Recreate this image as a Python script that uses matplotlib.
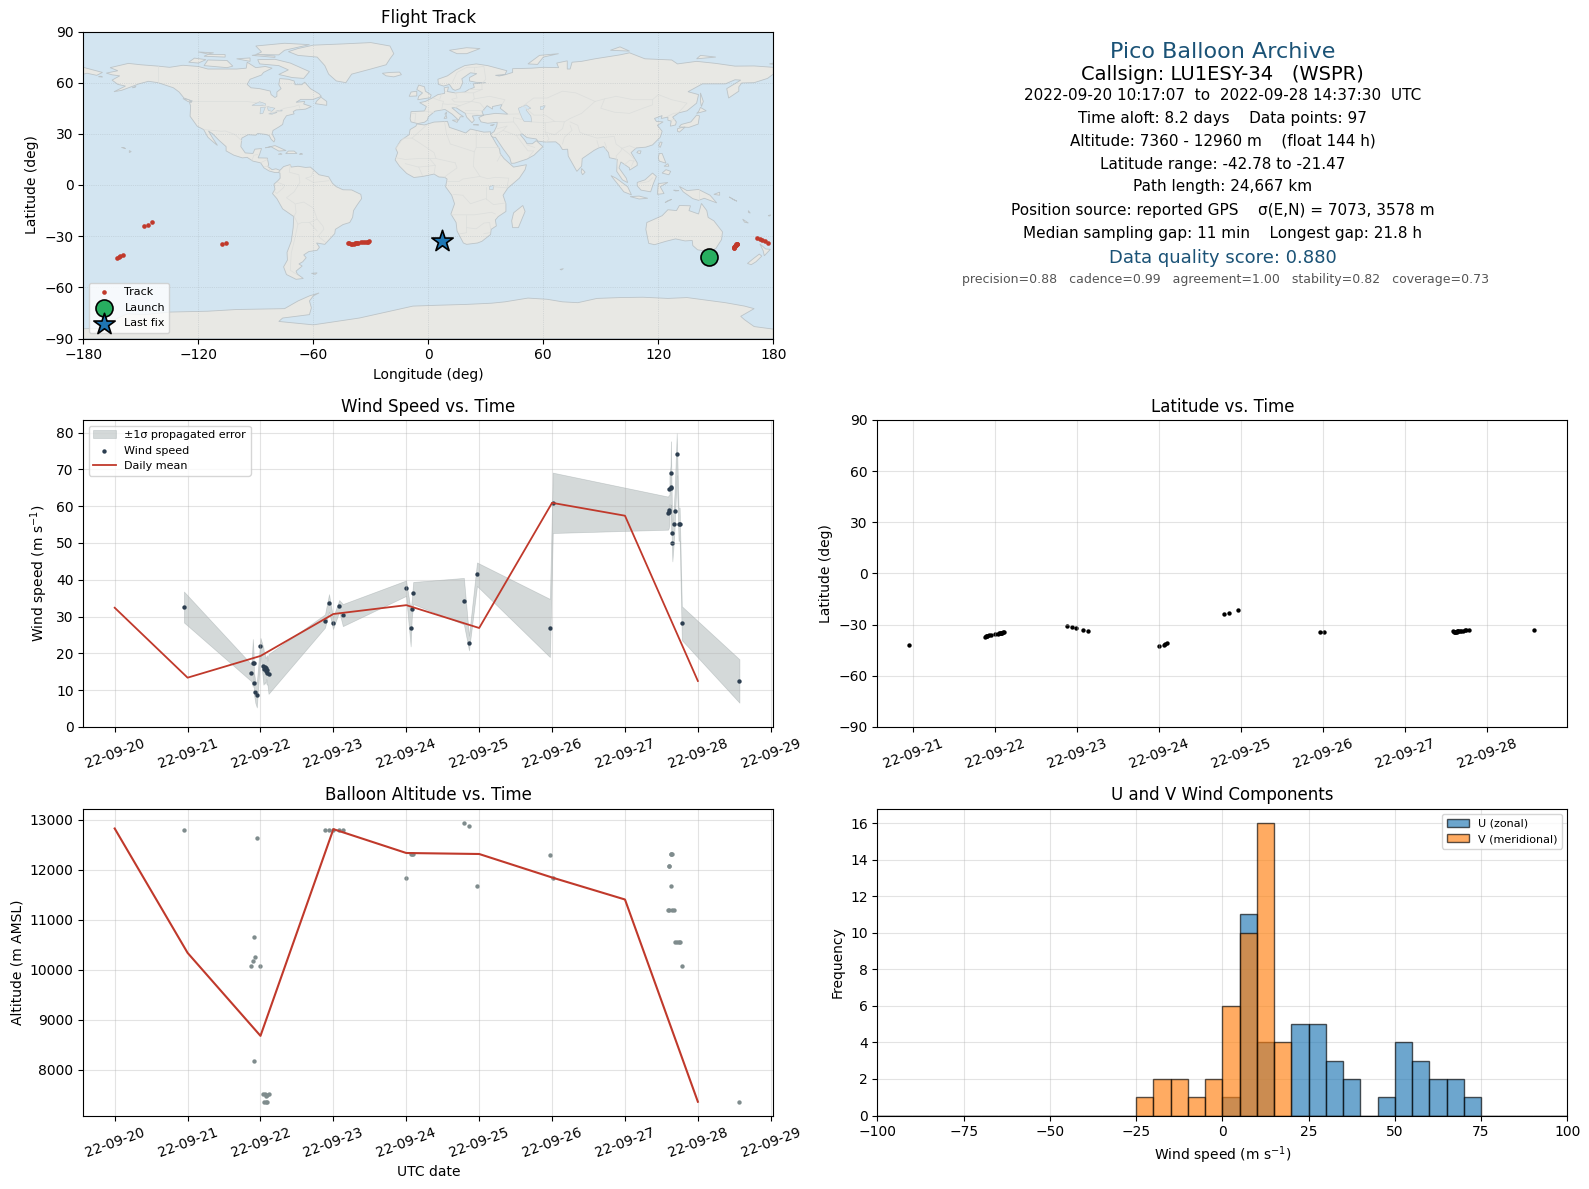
import numpy as np
import pandas as pd
import matplotlib
matplotlib.use("Agg")
import matplotlib.pyplot as plt
import matplotlib.dates as mdates
from matplotlib.patches import Polygon

# observations, day = day of September 2022 (UTC)
obs_day = [20.95, 21.876, 21.895, 21.905, 21.91, 21.93, 21.95, 22.0, 22.04, 22.05, 22.06, 22.07,
           22.08, 22.09, 22.095, 22.11, 22.885, 22.94, 22.995, 23.08, 23.13, 23.997, 24.06, 24.075,
           24.095, 24.79, 24.86, 24.97, 25.97, 26.01, 27.59, 27.6, 27.61, 27.61, 27.625, 27.63,
           27.63, 27.645, 27.65, 27.67, 27.68, 27.71, 27.735, 27.75, 27.78, 28.57]
wind = [32.6, 14.7, 17.4, 17.3, 11.9, 9.5, 8.7, 22.0, 16.5, 15.8, 16.2, 15.2,
        16.1, 15.5, 14.8, 14.4, 28.8, 33.7, 28.2, 32.9, 30.4, 37.7, 26.9, 32.0,
        36.4, 34.2, 22.8, 41.5, 26.9, 60.9, 58.1, 58.5, 59.0, 64.6, 65.0, 65.3,
        69.0, 52.7, 50.0, 55.1, 58.6, 74.1, 55.1, 55.1, 28.2, 12.5]
wind_err = [4.2, 2.3, 6.5, 3.0, 3.0, 3.0, 3.4, 2.2, 5.0, 4.0, 4.0, 3.5,
            3.0, 4.0, 3.2, 5.4, 1.8, 2.4, 1.6, 1.6, 3.0, 2.1, 5.0, 2.5,
            3.0, 6.3, 2.0, 3.2, 7.9, 8.2, 4.5, 4.5, 4.0, 4.0, 6.0, 12.0,
            8.6, 5.0, 5.0, 5.0, 5.0, 5.7, 4.5, 4.5, 4.6, 5.9]
altitude = [12800, 10080, 10180, 10660, 8180, 10260, 12640, 10080, 7510, 7360, 7510, 7470,
            7360, 7490, 7360, 7510, 12800, 12800, 12800, 12800, 12800, 11840, 12320, 12320,
            12320, 12940, 12880, 11680, 12300, 11840, 11200, 12080, 12080, 11200, 11680, 12320,
            12320, 11200, 12320, 11200, 10560, 10560, 10560, 10560, 10080, 7360]
lat = [-42.0, -37.0, -36.8, -36.6, -36.4, -36.0, -35.8, -35.5, -35.2, -35.0, -34.9, -34.8,
       -34.7, -34.6, -34.5, -34.4, -31.0, -31.5, -32.2, -33.0, -34.0, -42.78, -42.0, -41.5,
       -41.0, -23.8, -23.2, -21.47, -34.4, -34.2, -34.0, -34.2, -34.3, -34.4, -34.3, -34.2,
       -34.0, -33.9, -33.8, -33.7, -33.6, -33.5, -33.3, -33.2, -33.0, -33.0]
lon = [146.5, 159.3, 159.5, 159.6, 159.7, 159.9, 160.0, 160.2, 160.4, 160.5, 160.6, 160.7,
       160.8, 160.9, 160.95, 161.0, 171.6, 173.0, 174.0, 175.7, 177.0, -162.3, -161.5, -160.8,
       -159.3, -148.5, -146.5, -144.3, -107.8, -105.6, -42.0, -41.2, -40.5, -39.8, -39.0, -38.4,
       -37.8, -37.2, -36.7, -35.0, -34.0, -33.0, -32.2, -31.6, -31.0, 7.1]

mean_day = [20, 21, 22, 23, 24, 25, 26, 27, 28]
mean_wind = [32.4, 13.4, 19.3, 30.7, 33.1, 26.9, 60.9, 57.4, 12.5]
mean_alt = [12820, 10333, 8673, 12807, 12330, 12310, 11840, 11400, 7355]

hist_edges = np.arange(-100, 105, 5)
hist_left = [-25, -20, -15, -10, -5, 0, 5, 10, 15, 20, 25, 30, 35, 40, 45, 50, 55, 60, 65, 70]
u_counts = [0, 0, 0, 0, 0, 1, 11, 4, 0, 5, 5, 3, 2, 0, 1, 4, 3, 2, 2, 1]
v_counts = [1, 2, 2, 1, 2, 6, 10, 16, 4, 0, 0, 0, 0, 0, 0, 0, 0, 0, 0, 0]

info_lines = ["Pico Balloon Archive",
              "Callsign: LU1ESY-34   (WSPR)",
              "2022-09-20 10:17:07  to  2022-09-28 14:37:30  UTC",
              "Time aloft: 8.2 days    Data points: 97",
              "Altitude: 7360 - 12960 m    (float 144 h)",
              "Latitude range: -42.78 to -21.47",
              "Path length: 24,667 km",
              "Position source: reported GPS    σ(E,N) = 7073, 3578 m",
              "Median sampling gap: 11 min    Longest gap: 21.8 h",
              "Data quality score: 0.880",
              "precision=0.88   cadence=0.99   agreement=1.00   stability=0.82   coverage=0.73"]

# rough coastlines, lon/lat
north_america = [(-168,65.6),(-162,67),(-166,68.8),(-156.5,71.3),(-150,70.5),(-141,69.7),(-135,69),(-128,70.2),
    (-120,69.5),(-115,68),(-108,68),(-100,68),(-95,68.5),(-94.5,72),(-90,68.8),(-85,69.5),(-81.5,68.5),(-86,66),
    (-87,64.5),(-93,62),(-94.5,59),(-92.5,57),(-88,56.5),(-82.5,55.1),(-82,53),(-80,51.3),(-79,52),(-79,54.5),
    (-76.8,56.5),(-78,58.8),(-77.5,62.4),(-73,62),(-70,61),(-69.5,58.8),(-66,58.8),(-64.5,60.3),(-61.5,56.5),
    (-57,53.5),(-55.8,52),(-60,50.2),(-66.5,50.2),(-69,48.5),(-64.5,49),(-65,47.5),(-61,46),(-64,44.5),(-66.5,44.2),
    (-69,44),(-70.5,43),(-70,41.7),(-74,40.6),(-75.5,38),(-76,35.5),(-78,34),(-81,32),(-81.5,30),(-80,26.8),
    (-80.5,25.2),(-82,26.8),(-83,29),(-85,29.7),(-89,30.2),(-90,29.2),(-94,29.5),(-97.3,27.5),(-97.8,22.5),
    (-95.5,18.8),(-91.5,18.5),(-90.5,21),(-87,21.4),(-88,18),(-88.8,15.9),(-84,15.8),(-83.3,12),(-83.7,10.8),
    (-81.5,9),(-79.5,9.5),(-77.4,8.6),(-78,7.3),(-80,7.3),(-83,8.2),(-85.7,10),(-87.5,13),(-91.5,14),(-94.5,16.2),
    (-97,15.9),(-101.5,17.5),(-105.5,20),(-105.5,22.5),(-109,26),(-112.5,30),(-114.7,31.7),(-112.5,27.5),(-110,23.2),
    (-112,25),(-115,28),(-117.2,32.5),(-120.6,34.5),(-122.5,37.5),(-124.3,40.3),(-124,46.3),(-124.6,48.4),(-123,49.2),
    (-127.5,51),(-130,54.5),(-133,57),(-137,58.5),(-141,60),(-146,60.8),(-151,59.3),(-154,58),(-160,55.5),(-164,54.7),
    (-158,58),(-162,59),(-165,61.5),(-161,64),(-165,64.6)]
south_america = [(-77.4,8.6),(-75.5,10.8),(-72,12),(-71.5,10.5),(-68,11),(-64,10.3),(-61.5,10.5),(-57,6),(-52,4.8),
    (-50,1),(-48,-1),(-44.5,-2.8),(-40,-2.9),(-35.2,-5.5),(-34.8,-8),(-37,-11.5),(-39,-15),(-39.5,-19),(-41,-22),
    (-44.5,-23.2),(-48.5,-26),(-48.8,-28.5),(-52.5,-33),(-54,-34.8),(-58.3,-34),(-56.8,-36.5),(-58,-38.3),(-62.3,-39),
    (-65,-41),(-63.7,-42.6),(-65.5,-45),(-67.5,-46.3),(-65.8,-47.5),(-69,-50.5),(-68.3,-52.3),(-65.2,-54.8),(-69,-55.3),
    (-74,-52.5),(-75.5,-48),(-73.5,-44),(-73.7,-39.5),(-71.5,-33),(-70.5,-25),(-70.2,-18.5),(-76,-14),(-79,-8),
    (-81.3,-5),(-80,-2.5),(-80.5,0.5),(-78.5,2.5),(-77.3,4),(-77.4,7),(-78,7.3)]
africa = [(-5.9,35.8),(-2,35.2),(3,36.9),(10,37.3),(11,33.8),(15,32.3),(19.5,30.5),(22,32.8),(29,31),(32.5,31.2),
    (32.5,29.9),(35.5,24),(37.2,21),(37.5,18.5),(39.5,15.5),(43,12),(44.5,10.5),(51.2,11.9),(50.5,9),(47.5,4),
    (41.5,-1.8),(39,-6),(40.5,-11),(40.5,-15.5),(36.5,-18.5),(35,-20.5),(35.5,-24),(32.8,-26),(32.5,-29),(28,-33),
    (25.7,-34),(20,-34.8),(18.3,-34),(15,-27),(14.5,-22),(11.8,-17),(13.7,-11),(12.2,-6),(9,-1),(9.8,3.5),(8.5,4.5),
    (5.5,4.7),(3,6.4),(-3,5),(-7.5,4.4),(-11.3,6.8),(-15,11),(-17.3,14.7),(-16,19),(-17,21.4),(-14.5,26),(-10,29.5),
    (-9.5,32.5),(-6.5,34.5)]
eurasia = [(-9,37),(-9.5,38.8),(-9,43),(-2,43.4),(-1,46),(-4.5,48.3),(-1.5,49),(2,51),(5,53),(8.5,53.7),(8.3,57),
    (10.5,57.5),(10,54.8),(14,54),(19,54.5),(21.2,56),(24,57.2),(23.5,59.3),(30,60),(25,60.2),(21.5,61),(21.5,63),
    (25.3,65.3),(22,65.8),(17.5,62.3),(18,60),(16.5,56.5),(14,55.5),(12.7,56.2),(11,59),(8,58),(5.3,59),(5,62),(10,64),
    (14.5,67.5),(19,70),(25,71),(31,70),(41,67),(40,64.8),(35,64.3),(37,63.9),(40,64.6),(44,66),(44,68.2),(54,68.5),
    (60,69),(68,68.8),(67,71.5),(72.5,72.8),(72.5,68),(74,68),(75,72),(80,72.5),(87,74),(100,76.3),(105,77.5),(113,74),
    (127,73.3),(130,71),(140,72.5),(150,71.3),(160,69.7),(170,69.8),(180,69),(180,65),(177,62.5),(170,60),(163.5,59.8),
    (162,57.5),(162,55),(156.7,51),(155.7,56.5),(163,61.5),(160,61.7),(155,59.3),(143,59.3),(135.5,54.7),(141,53),
    (140,48),(135,43.5),(130.7,42.3),(127.5,39.8),(129.4,37),(129,35.2),(126.3,34.5),(126.7,37.5),(125,38),(125,39.8),
    (121.5,39),(122,40.7),(118,39),(119,37.3),(122.5,37),(119.5,35),(122,31.5),(121,28),(117,23.5),(113.5,22.2),
    (108.5,21.7),(105.8,19),(109,13),(109,11.5),(105,8.7),(105,10),(100.5,13.5),(99.5,10),(103.3,4),(104,1.4),(101.3,3),
    (98.3,8),(98.6,15),(94.5,16),(94,19),(91.5,22.5),(89,21.8),(86.5,20.3),(80.3,15.5),(80,11),(77.5,8),(76,11),(73,17),
    (72.7,21),(70,20.8),(68.5,23.5),(66.5,25.3),(61,25.2),(57.3,25.7),(56.3,27),(51.5,27.8),(48.7,30.2),(48,29.5),
    (50.2,26.5),(51.5,24.2),(54.3,24.2),(56.3,26),(59.8,22.5),(55.2,17.5),(51.5,15.2),(45,12.8),(43.3,12.7),(42.5,16),
    (39,21.3),(35,28),(34.3,27.9),(33,28.5),(32.6,30),(34.3,31.3),(35.7,34.5),(36,36.8),(31,36.2),(27.5,37),(26.3,39.5),
    (29,41),(35,42),(41.5,41.5),(37.5,45),(38.5,47.2),(33.5,46),(33.5,44.5),(30.7,46.5),(28,43),(28.8,41),(26,40.8),
    (23,40.5),(24,38),(22.8,36.5),(20,39.8),(19.3,42),(14.5,45.3),(12.3,45.3),(16,41.8),(18.4,40),(16.7,40),(15.8,38),
    (12.5,41.5),(8.7,44.3),(3.5,43.3),(0,40),(-0.5,38),(-2,36.8),(-5.5,36)]
australia = [(114,-22),(113.5,-26),(115,-34.2),(118,-35),(124,-33),(129,-31.6),(134,-32.8),(137.7,-32.5),(138,-35.5),
    (140.5,-38),(146.3,-39),(150,-37.3),(153,-32),(153.5,-27.5),(149,-21),(146,-19),(145.3,-15),(142.5,-10.8),(141,-17),
    (136,-15),(136.8,-12.2),(131,-12),(129.5,-15),(125,-14.5),(122,-18),(117,-20.5)]
antarctica = [(-180,-90),(-180,-84.3),(-170,-84),(-162,-78),(-157,-75.5),(-148,-76),(-135,-74.5),(-115,-74),(-100,-73),(-90,-72.8),
    (-75,-72.5),(-68,-68),(-62,-65),(-57,-63.3),(-60,-65),(-62,-68),(-61,-72),(-62,-76),(-76,-78),(-78,-80),(-60,-82),
    (-48,-80),(-36,-78),(-28,-76),(-18,-73.5),(-8,-71),(5,-70.5),(20,-70),(33,-69.3),(40,-68.5),(52,-66.3),(62,-67),
    (70,-68.5),(78,-69),(88,-66.5),(100,-66),(112,-65.8),(125,-66.5),(135,-66),(145,-67.5),(155,-69),(165,-71),(170,-72.5),
    (163,-77),(165,-79),(170,-83),(180,-84.5),(180,-90)]
greenland = [(-73,78.2),(-68,80),(-60,82),(-45,82.7),(-30,83.5),(-20,81.5),(-18,77),(-20,74),(-22,70.5),(-30,68),(-40,65),
    (-43,60),(-48,61),(-52,65),(-54,70),(-58,75),(-68,76)]
arctic_islands = [[(-80,73.7),(-72,71.5),(-67,69),(-62,66.5),(-65,62.5),(-71,63),(-78,64.8),(-73,67.5),(-78,70),(-88,71),(-89,73.5)],
    [(-117,70),(-105,68.8),(-102,69.7),(-105,73),(-115,73.3)], [(-125,72),(-120,71.5),(-116,73.5),(-122,74.4)],
    [(-90,76.5),(-78,76.3),(-75,79),(-62,82.3),(-75,83.1),(-90,81.5),(-87,78)], [(-92,76),(-80,74.8),(-80,75.6),(-89,76.5)],
    [(-117,75.5),(-106,75),(-106,76.5),(-115,76.5)], [(-100,74),(-93,72.5),(-93,74.5)], [(-120,78),(-112,77.5),(-115,76.8)],
    [(11,79),(20,80.5),(27,80),(20,77),(15,77)], [(52,71),(57,70.7),(60,75),(68,77),(58,76)], [(95,79),(105,78.5),(100,81)],
    [(140,74),(150,75),(142,76)], [(-180,69),(-175,67.5),(-170,66),(-173,64.3),(-178,65.5),(-180,65)], [(178,71),(180,71.5),(180,70.8)]]
other_islands = [[(-59,47.7),(-53,46.7),(-53,49),(-56,51.5),(-58,49.5)], [(-85,21.8),(-80,23.1),(-74.2,20.2),(-78,19.9),(-82,22.4)],
    [(-74.4,18.4),(-68.5,18.5),(-70,19.9),(-73,19.9)], [(-78.3,18),(-76.3,18),(-77,18.5)], [(-67.2,18),(-65.6,18.1),(-66.5,18.5)],
    [(-128,50.7),(-125,50),(-123.5,48.4),(-125.5,49)], [(-24,65.5),(-22,64),(-18,63.4),(-14,64.7),(-15,66.2),(-20,66)],
    [(-5.5,50),(1,51.2),(1.5,52.8),(-1.5,55),(-2,57.6),(-5,58.6),(-6,56),(-3,54),(-5,52)], [(-10,52),(-6,52.2),(-6,55),(-9,54.5)],
    [(142,54),(143.5,49),(142.5,46),(142,49)], [(140,42),(145,43.5),(142,45.5),(141,43)],
    [(130.8,34),(136,33.8),(140.8,35.7),(141.5,40.5),(140,41),(137,37),(132,35.5)], [(130,33),(131.5,33.5),(134,34),(131,31),(130,31.5)],
    [(120.2,23),(121,22),(122,25),(121,25.2)], [(108.8,19),(110.5,18.3),(111,20),(109.5,20)],
    [(120,16),(120.5,14),(124,12.8),(122,18.5),(120.5,18.5)], [(122,7),(125.5,6),(126.5,8),(124,9)], [(123,11),(125.5,11),(125,12.5)],
    [(95.3,5.5),(98,4),(104,-1),(106,-5.8),(102,-4),(98.5,1)], [(105.3,-6.8),(110,-6.5),(114.5,-7.8),(110,-8.2)],
    [(109,1.5),(113,3),(117,7),(119,5),(117.5,1),(116,-4),(111,-3),(109,-0.5)], [(119.5,-5.5),(120,0.8),(125,1.5),(121,-1),(123,-5)],
    [(131,-0.8),(135,-3.3),(141,-2.6),(147,-6),(150.5,-10.5),(144,-7.8),(141,-9),(138,-8),(133,-4)],
    [(144.7,-40.8),(148.2,-40.8),(147.8,-43.2),(146,-43.5)], [(173,-34.5),(176,-37.5),(178.5,-37.7),(175.3,-41.5),(174.7,-38.5)],
    [(172.7,-40.5),(174,-41.7),(171,-45),(168.5,-46.7),(166.5,-46),(170,-42.8)],
    [(49.3,-12),(50.5,-15.5),(47,-25),(44,-25),(43.5,-21),(44.5,-16.3)], [(80,9.7),(81.8,7.5),(80.5,6),(79.8,7.5)],
    [(149,-5.5),(152,-4.2),(152,-6)], [(157,-7),(161,-9.5),(159,-8.5)], [(164,-20),(167,-22.3),(165,-21.8)], [(167,-15),(168,-16.5),(167,-16)],
    [(177.3,-18),(178.6,-17.5),(178,-18.2)], [(123.5,-10.3),(127,-8.4),(125,-9.2)], [(128,-3),(130.8,-3.3),(129,-3.5)],
    [(-156,19),(-155,19.6),(-156,20.2)], [(-160,22),(-158,21.3),(-158.5,21.8)], [(-61,-51.8),(-58,-51.5),(-59,-52.4)],
    [(68.7,-49.5),(70.5,-49),(69.5,-49.8)], [(12.5,38),(15.6,38.2),(15,36.7)], [(8.2,39),(9.7,39.2),(9.3,41)], [(8.6,41.5),(9.5,42.8),(9.5,41.5)],
    [(23.5,35.3),(26.3,35.2),(24.5,35.4)], [(32.3,35),(34.5,35.6),(33.5,34.8)], [(-172,63.5),(-170,63.3),(-170.8,63.8)], [(-154.5,57),(-152.5,58),(-153,57.2)]]
# inland water painted over the land
inland_water = [[(47,45),(51,47),(53.5,45),(51,44),(53.5,40.5),(54,37),(50,37.3),(49,39),(47.5,43)],
    [(-92,46.7),(-88,48.8),(-85,47.7),(-85,46.6),(-90,46.7)], [(-87.8,41.7),(-86.3,42),(-85,45.7),(-87.5,45.5)],
    [(-84,46),(-80,45),(-81.7,43.2),(-83.5,43.8)], [(-83.3,41.7),(-79,42.8),(-79,42.5),(-81.5,41.5)], [(-79.7,43.3),(-76.3,44),(-76.3,43.4)],
    [(58.5,46),(61,46.5),(60,44.5),(58.5,44.2)], [(31.8,-1),(34,-0.2),(33.8,-2.8),(32,-2.7)]]
# a few country borders, thin lines
borders = [[(-141,69.7),(-141,60)], [(-123,49),(-95,49),(-88,48),(-82.5,45),(-82.5,42.5),(-79,43),(-75,45),(-70,46),(-67.5,47),(-67,45)],
    [(-117,32.5),(-108,31.5),(-106,31.7),(-101,29.7),(-97.3,25.9)], [(-92,14.5),(-91,17.5),(-89,17.8)], [(-87.5,13),(-84,15)],
    [(-85.7,11),(-83.7,11)], [(-83,8.5),(-82.7,9.5)], [(-77.5,7.5),(-77.2,8.6)], [(-72,12),(-72.5,7.5),(-67.5,6),(-67,1.5),(-70,-4),(-74,-7.5),(-69.5,-11),(-69,-16),(-70,-18.3)],
    [(-60,8.5),(-61,5),(-64,4),(-60,1.5),(-56,2),(-52,2.5)], [(-78.5,1.5),(-75,0),(-75.5,-1.5),(-79,-5),(-80.5,-3.5)], [(-70,-18.3),(-68,-23),(-70,-33),(-71.5,-40),(-72,-50),(-68.5,-52.5)],
    [(-69,-11),(-65,-10),(-60,-13.5),(-58,-20),(-62,-22),(-66,-22),(-68,-23)], [(-58,-20),(-55,-24),(-54.5,-26),(-57.5,-30),(-53.5,-33.7)], [(-58,-27),(-62,-22)],
    [(-1,35),(-8.5,27.5),(-13,27.5),(-17,21.5)], [(8.5,37),(9.5,30),(11.5,24),(14.5,23),(24,19.5),(25,22),(25,31.5)], [(-8.5,27.5),(-5,25),(3,19),(4,15.5),(14,13)],
    [(25,22),(36.9,22)], [(24,19.5),(23.5,11),(27,5),(31,3.7),(35,4.5),(42,4),(41,-1.7)], [(14,13),(15,10),(10,6),(8.5,4.6)], [(36,14),(38,18)], [(3,6.4),(3.7,11.5),(1,15)],
    [(-12,12.5),(-5,10.5),(-3,5.5)], [(-5,10.5),(3.7,11.5)], [(-17,16),(-12,15),(-5,15.5),(4,15.5)], [(13,-5.5),(18,-6),(22,-11),(30,-8),(34,-11.5),(40.5,-10.5)],
    [(30,-1),(30,-8)], [(9.8,2),(16,2),(18,3.5),(27,5)], [(12,-17.5),(24,-17.5),(33,-16),(35,-17)], [(20,-18),(20,-28),(16.5,-28.6)], [(20,-25),(25,-25.7),(29,-22.3),(32,-22),(32.5,-26)], [(34,-1),(41,-1.7)], [(29,-28.5),(32,-28)],
    [(-2,43.4),(3,42.4)], [(-9,41.9),(-6.5,42),(-7,37.2)], [(2.5,51),(6,49.5),(8,49),(7.5,47.6),(7,44)], [(7,53.5),(6,50.5)], [(8.7,54.9),(9.5,54.8)], [(14.2,54),(15,51),(12.2,50.3),(13.7,48.7),(17,48.7),(22.5,49)],
    [(7.5,47.6),(10,47.3),(13,47.5),(16.5,46.5),(14,45.5)], [(14,54.3),(23.5,54),(24,50.5),(22.5,49),(27,48),(29,45.3)], [(22.5,49),(16.5,46.5)], [(19,44),(22.5,44),(29,44)], [(20,42),(26,41.5)],
    [(23.5,54),(28,56),(28,59.5)], [(24,50.5),(32,52),(40,50),(38.5,47.2)], [(21,56),(28,56)], [(28,59.5),(30,62),(29,69.5),(25,69)], [(12.5,60),(15,66),(20,69),(25,69)], [(24,66),(24,69)],
    [(41.5,41.5),(48,41.7)], [(44.5,39.5),(44.5,37),(46,35),(48.7,30.2)], [(36.5,36.5),(44.5,37)], [(39,32),(46,29),(48,29.5)], [(35,29.5),(39,32),(41,34.5)], [(36,33),(41,34.5)],
    [(46,29),(52,20),(55,20),(52.5,16.5)], [(51.5,23.5),(55.5,22)], [(44.5,39.5),(48.5,38.5)], [(54,37),(61,36.5),(61,31),(63,27),(61.5,25)], [(61,36.5),(66,37.3),(71,37),(74,39)],
    [(61,31),(66,29.5),(70,33),(71,37)], [(74,37),(78,35),(79,31),(81,30),(88,27.5),(97,28.5),(98,24),(101,21.5),(105,23),(108,21.6)], [(70,24),(71,28),(75,32),(74,35)],
    [(88,26),(89,22)], [(92,25),(93,22),(92.3,20.8)], [(101,21.5),(100.5,20),(98,17),(99,10)], [(101,21.5),(105,18),(107.5,15),(106,11)], [(102.5,12),(105,14.5),(107.5,14)],
    [(50,46),(55,41),(61,41),(66,37.3)], [(49,46),(55,51),(62,51),(70,55),(77,54),(87,49)], [(87,49),(92,50.5),(98,52),(107,50),(117,50),(120,53),(127,50),(135,48),(131,43)], [(87,49),(80,42),(74,39)],
    [(92,50.5),(90,45),(97,42.7),(105,42),(112,45),(117,47),(117,50)], [(124.5,40),(128,42),(130.7,42.3)], [(126.7,38),(128.5,38.5)], [(141,-2.6),(141,-9)], [(117,4.2),(115,2),(110,1)]]

land_color = "#e8e8e4"
ocean_color = "#d3e5f1"
red = "#c0392b"
navy = "#2c3e50"
gray = "#7f8c8d"
title_blue = "#1a5276"

base = pd.Timestamp("2022-08-31")
obs_t = base + pd.to_timedelta(obs_day, unit="D")
mean_t = base + pd.to_timedelta(mean_day, unit="D")
wind = np.array(wind)
wind_err = np.array(wind_err)

W, H = 1589, 1189
fig = plt.figure(figsize=(W / 100, H / 100), dpi=100)


def panel(x0, x1, y0, y1):
    return fig.add_axes([x0 / W, 1 - y1 / H, (x1 - x0) / W, (y1 - y0) / H])


col1 = (83.3, 773.3)
col2 = (877.5, 1567.3)
ax_map = panel(*col1, 31.5, 338.5)
ax_info = panel(*col2, 31.5, 338.5)
ax_wind = panel(*col1, 420, 727)
ax_lat = panel(*col2, 420, 727)
ax_alt = panel(*col1, 808.5, 1115.5)
ax_hist = panel(*col2, 808.5, 1115.5)

# map
ax_map.set_facecolor(ocean_color)
for poly in [north_america, south_america, africa, eurasia, australia, antarctica, greenland] + arctic_islands + other_islands:
    ax_map.add_patch(Polygon(poly, closed=True, facecolor=land_color, edgecolor="#bcc4c8", lw=0.6, zorder=1))
for poly in inland_water:
    ax_map.add_patch(Polygon(poly, closed=True, facecolor=ocean_color, edgecolor="#bcc4c8", lw=0.4, zorder=1.1))
for line in borders:
    xs, ys = zip(*line)
    ax_map.plot(xs, ys, color="#dcdedc", lw=0.5, zorder=1.2)
ax_map.scatter(lon, lat, s=11, color=red, linewidths=0, zorder=3, label="Track")
ax_map.scatter(lon[0], lat[0], s=150, color="#27ae60", edgecolor="black", lw=1.2, zorder=5, label="Launch")
ax_map.scatter(lon[-1], lat[-1], s=260, marker="*", color="#1f77b4", edgecolor="black", lw=1.2, zorder=6, label="Last fix")
ax_map.set_xlim(-180, 180)
ax_map.set_ylim(-90, 90)
ax_map.set_xticks(np.arange(-180, 181, 60))
ax_map.set_yticks(np.arange(-90, 91, 30))
ax_map.grid(True, ls=":", lw=0.5, color="#9aa5ab", alpha=0.5, zorder=2)
ax_map.set_xlabel("Longitude (deg)")
ax_map.set_ylabel("Latitude (deg)")
ax_map.set_title("Flight Track")
ax_map.legend(loc="lower left", fontsize=8)

# info block
ax_info.axis("off")
info_y = [52, 75, 96, 118, 141, 164, 187, 211, 233.5, 258, 279]
info_x = [0.5, 0.5, 0.5, 0.5, 0.5, 0.5, 0.5, 0.5, 0.5, 0.5, 0.505]
info_size = [16, 14, 11, 11, 11, 11, 11, 11, 11, 13, 9]
info_color = [title_blue, "black", "black", "black", "black", "black", "black", "black", "black", title_blue, "#555555"]
for txt, x, y, size, c in zip(info_lines, info_x, info_y, info_size, info_color):
    ax_info.text(x, (338.5 - y) / 307, txt, transform=ax_info.transAxes, ha="center", va="center", fontsize=size, color=c)

# wind
ax_wind.fill_between(obs_t, wind - wind_err, wind + wind_err, color=gray, alpha=0.33, linewidth=0.5, label="±1σ propagated error")
ax_wind.scatter(obs_t, wind, s=10, color=navy, linewidths=0, label="Wind speed")
ax_wind.plot(mean_t, mean_wind, color=red, lw=1.3, label="Daily mean")
ax_wind.set_ylim(0, 83.4)
ax_wind.set_ylabel("Wind speed (m s$^{-1}$)")
ax_wind.set_title("Wind Speed vs. Time")
ax_wind.legend(loc="upper left", fontsize=8)

# latitude
ax_lat.scatter(obs_t, lat, s=10, color="black", linewidths=0)
ax_lat.set_ylim(-90, 90)
ax_lat.set_yticks(np.arange(-90, 91, 30))
ax_lat.set_ylabel("Latitude (deg)")
ax_lat.set_title("Latitude vs. Time")

# altitude
ax_alt.scatter(obs_t, altitude, s=10, color=gray, linewidths=0)
ax_alt.plot(mean_t, mean_alt, color=red, lw=1.5)
ax_alt.set_ylim(7080, 13220)
ax_alt.set_ylabel("Altitude (m AMSL)")
ax_alt.set_xlabel("UTC date")
ax_alt.set_title("Balloon Altitude vs. Time")

for ax in (ax_wind, ax_lat, ax_alt):
    ax.grid(True, color="#b0b0b0", alpha=0.35, lw=0.8)
    ax.xaxis.set_major_locator(mdates.DayLocator())
    ax.xaxis.set_major_formatter(mdates.DateFormatter("%y-%m-%d"))
    ax.tick_params(axis="x", rotation=20)
for ax in (ax_wind, ax_alt):
    ax.set_xlim(pd.Timestamp("2022-09-19 13:40"), pd.Timestamp("2022-09-29 00:50"))
ax_lat.set_xlim(pd.Timestamp("2022-09-20 13:40"), pd.Timestamp("2022-09-28 23:30"))

# histogram
centers = np.array(hist_left) + 2.5
ax_hist.hist(centers, bins=hist_edges, weights=u_counts, color="#1f77b4", alpha=0.65, edgecolor="black", label="U (zonal)")
ax_hist.hist(centers, bins=hist_edges, weights=v_counts, color="#ff7f0e", alpha=0.65, edgecolor="black", label="V (meridional)")
ax_hist.set_xlim(-100, 100)
ax_hist.set_ylim(0, 16.8)
ax_hist.set_xlabel("Wind speed (m s$^{-1}$)")
ax_hist.set_ylabel("Frequency")
ax_hist.set_title("U and V Wind Components")
ax_hist.set_axisbelow(True)
ax_hist.grid(True, color="#b0b0b0", alpha=0.35, lw=0.8)
ax_hist.legend(loc="upper right", fontsize=8)

fig.savefig("out.png", dpi=100)
